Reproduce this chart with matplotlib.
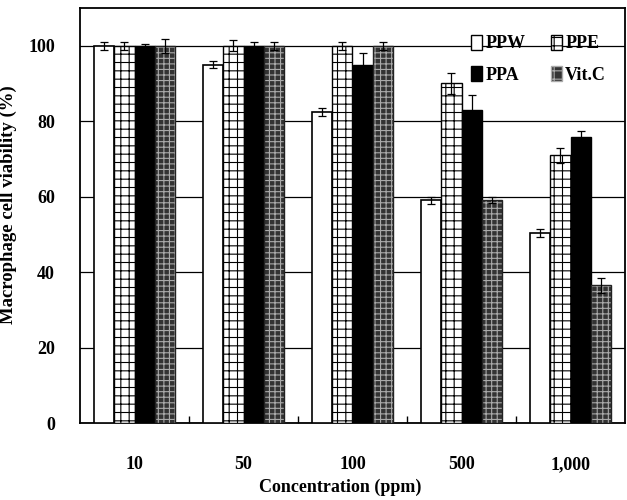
import numpy as np
import matplotlib
matplotlib.use("Agg")
import matplotlib.pyplot as plt
from matplotlib.patches import Patch

plt.rcParams['font.family'] = ['Liberation Serif', 'DejaVu Serif']
plt.rcParams['font.weight'] = 'bold'
plt.rcParams['hatch.linewidth'] = 0.8

# data
conc = ['10', '50', '100', '500', '1,000']
ppw = [100, 95, 82.5, 59, 50.3]
ppw_err = [1, 1, 1, 1, 1]
ppe = [100, 100, 100, 90, 71]
ppe_err = [1, 1.5, 1, 2.8, 2]
ppa = [100, 100, 95, 83, 75.8]
ppa_err = [0.5, 1, 3, 4, 1.7]
vitc = [100, 100, 100, 59, 36.5]
vitc_err = [1.8, 1, 1, 0.8, 2]

fig = plt.figure(figsize=(6.27, 5.0), dpi=100)
ax = fig.add_axes([80/627, 77/500, 545/627, 415/500])

x = np.arange(len(conc))
w = 0.184
offs = [-1.5*w, -0.5*w, 0.5*w, 1.5*w]
ekw = dict(ecolor='black', elinewidth=0.9, capsize=3, capthick=0.9)

ax.bar(x + offs[0], ppw, w, color='white', edgecolor='black', linewidth=1.2,
       yerr=ppw_err, error_kw=ekw, zorder=3)
ax.bar(x + offs[1], ppe, w, color='white', edgecolor='black', hatch='++',
       linewidth=1.0, yerr=ppe_err, error_kw=ekw, zorder=3)
ax.bar(x + offs[2], ppa, w, color='black', edgecolor='black', linewidth=1.0,
       yerr=ppa_err, error_kw=ekw, zorder=3)
ax.bar(x + offs[3], vitc, w, color='#333333', edgecolor='#aaaaaa', hatch='+++',
       linewidth=0, zorder=3)
ax.bar(x + offs[3], vitc, w, fill=False, edgecolor='#222222', linewidth=1.0,
       yerr=vitc_err, error_kw=ekw, zorder=4)

ax.set_xlim(-0.5, len(conc) - 0.5)
ax.set_ylim(0, 110)
ax.set_yticks(range(0, 101, 20))
ax.yaxis.grid(True, color='black', linewidth=0.9)
ax.set_axisbelow(True)
ax.tick_params(axis='y', length=0, pad=18, labelsize=13)

ax.set_xticks(x)
ax.set_xticklabels(conc, fontsize=13)
ax.set_xticks(np.arange(0.5, len(conc) - 1, 1), minor=True)
ax.tick_params(axis='x', which='major', length=0, pad=24)
ax.tick_params(axis='x', which='minor', direction='in', length=5, width=1)

for s in ax.spines.values():
    s.set_linewidth(1.3)

ax.set_ylabel('Macrophage cell viability (%)', fontsize=13.5, fontweight='bold')
ax.yaxis.set_label_coords(-0.115, 0.525)
ax.set_xlabel('Concentration (ppm)', fontsize=13, fontweight='bold')
ax.xaxis.set_label_coords(0.477, -0.135)

handles = [
    Patch(facecolor='white', edgecolor='black', label='PPW'),
    Patch(facecolor='black', edgecolor='black', label='PPA'),
    Patch(facecolor='white', edgecolor='black', hatch='++', label='PPE'),
    Patch(facecolor='#333333', edgecolor='#aaaaaa', hatch='++', label='Vit.C'),
]
ax.legend(handles=handles, ncol=2, loc='upper right', frameon=False,
          fontsize=13, handlelength=0.6, handleheight=0.9, handletextpad=0.2,
          columnspacing=1.4, labelspacing=0.75, bbox_to_anchor=(0.995, 0.975))

fig.savefig('out.png', dpi=100)
